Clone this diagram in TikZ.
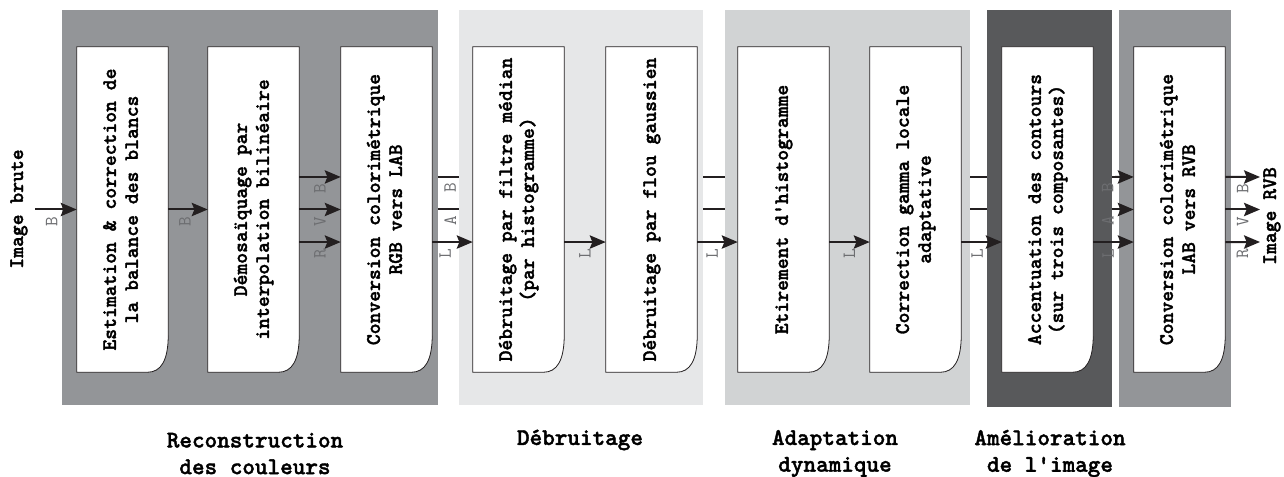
\documentclass[tikz,border=0pt]{standalone}
\usepackage{fontspec}
\usetikzlibrary{arrows.meta}

% heavy typewriter face used for all titles
\newfontfamily\heavytt{lmmonolt10-bold.otf}[FakeBold=1.6]

\definecolor{panelA}{HTML}{939598}
\definecolor{panelB}{HTML}{E6E7E8}
\definecolor{panelC}{HTML}{D1D3D4}
\definecolor{panelD}{HTML}{58595B}
\definecolor{ink}{HTML}{231F20}
\definecolor{chanfg}{HTML}{6D6E71}

\pgfdeclarelayer{wires}
\pgfdeclarelayer{panels}
\pgfdeclarelayer{cards}
\pgfsetlayers{wires,panels,cards,main}

% vertical two-line label set inside a stage
\newcommand{\vtext}[1]{\rotatebox{90}{\begin{tabular}{@{}c@{}}#1\end{tabular}}}

\begin{document}
\begin{tikzpicture}[x=0.75pt,y=-0.75pt,
  stage/.style={minimum width=68.25pt, minimum height=243.75pt, inner sep=0pt,
    font=\fontsize{15.5}{16.5}\selectfont\heavytt},
  card/.style={draw=ink, line width=0.6pt, fill=white},
  arr/.style={draw=ink, line width=1.5pt,
    -{Stealth[length=12pt,width=10pt,inset=2pt]}},
  wire/.style={draw=ink, line width=1.5pt},
  lab/.style={font=\fontsize{14}{14}\selectfont\ttfamily, text=chanfg,
    rotate=90, inner sep=0pt},
  below lab/.style={yshift=-9pt, lab},
  caption/.style={font=\fontsize{18}{20}\selectfont\heavytt,
    align=center, inner sep=0pt},
  io/.style={font=\fontsize{15.5}{16.5}\selectfont\heavytt,
    rotate=90, inner sep=0pt}]

\useasboundingbox (0,0) rectangle (1284,477);
\def\chgap{24.4pt}

% background panels, one per processing family
\begin{pgfonlayer}{panels}
  \fill[panelA] (62,10)   rectangle (438,405);
  \fill[panelB] (459,10)  rectangle (703,405);
  \fill[panelC] (725,10)  rectangle (970,405);
  \fill[panelD] (987,10)  rectangle (1112,407);
  \fill[panelA] (1119,10) rectangle (1231,407);
\end{pgfonlayer}

% processing stages
\node[stage] (b1) at (122.5,209.5)  {\vtext{Estimation \& correction de\\la balance des blancs}};
\node[stage] (b2) at (253.5,209.5)  {\vtext{Démosaïquage par\\interpolation bilinéaire}};
\node[stage] (b3) at (386.5,209.5)  {\vtext{Conversion colorimétrique\\RGB vers LAB}};
\node[stage] (b4) at (518.5,209.5)  {\vtext{Débruitage par filtre médian\\(par histogramme)}};
\node[stage] (b5) at (651.5,209.5)  {\vtext{Débruitage par flou gaussien}};
\node[stage] (b6) at (783.5,209.5)  {\vtext{Etirement d'histogramme}};
\node[stage] (b7) at (915.5,209.5)  {\vtext{Correction gamma locale\\adaptative}};
\node[stage] (b8) at (1047.5,209.5) {\vtext{Accentuation des contours\\(sur trois composantes)}};
\node[stage] (b9) at (1179.5,209.5) {\vtext{Conversion colorimétrique\\LAB vers RVB}};

% card outlines with the curled lower right corner
\begin{pgfonlayer}{cards}
  \foreach \n in {b1,b2,b3,b4,b5,b6,b7,b8,b9} {
    \path[card] (\n.north west) -- (\n.north east)
      -- ([shift={(0,-38)}]\n.south east)
      .. controls ([shift={(0,-12)}]\n.south east) and ([shift={(-7,0)}]\n.south east)
      .. ([shift={(-21,0)}]\n.south east)
      -- (\n.south west) -- cycle;
  }
\end{pgfonlayer}

% input and output
\node[io] (raw) at (19,209) {Image brute};
\coordinate (in) at (35,209.5);
\node[io] (rvb) at (1272,216) {Image RVB};
\coordinate (oB) at (1260,177);
\coordinate (oV) at (1260,209.5);
\coordinate (oR) at (1260,242);

\draw[arr] (in) -- node[below lab,pos=.4]{B} (b1.west);
\draw[arr] (b1.east) -- node[below lab,pos=.42]{B} (b2.west);

% three colour planes
\draw[arr] ([yshift=\chgap]b2.east) -- node[below lab,pos=.5]{B} ([yshift=\chgap]b3.west);
\draw[arr] (b2.east) -- node[below lab,pos=.5]{V} (b3.west);
\draw[arr] ([yshift=-\chgap]b2.east) -- node[below lab,pos=.5]{R} ([yshift=-\chgap]b3.west);

% luminance path
\draw[arr] ([yshift=-\chgap]b3.east) -- node[below lab,pos=.32]{L} ([yshift=-\chgap]b4.west);
\draw[arr] ([yshift=-\chgap]b4.east) -- node[below lab,pos=.5]{L} ([yshift=-\chgap]b5.west);
\draw[arr] ([yshift=-\chgap]b5.east) -- node[below lab,pos=.37]{L} ([yshift=-\chgap]b6.west);
\draw[arr] ([yshift=-\chgap]b6.east) -- node[below lab,pos=.5]{L} ([yshift=-\chgap]b7.west);
\draw[arr] ([yshift=-\chgap]b7.east) -- node[below lab,pos=.39]{L} ([yshift=-\chgap]b8.west);
\draw[arr] ([yshift=-\chgap]b8.east) -- node[below lab,pos=.37]{L} ([yshift=-\chgap]b9.west);

% chrominance planes run behind the panels
\begin{pgfonlayer}{wires}
  \draw[wire] ([yshift=\chgap]b3.east) -- ([yshift=\chgap]b9.west);
  \draw[wire] (b3.east) -- (b9.west);
\end{pgfonlayer}
\node[lab] (aB) at ([shift={(18,-21.5)}]b3.east) {B};
\node[lab] (aA) at ([shift={(18,11)}]b3.east) {A};
\coordinate (dB) at (1115,177);
\coordinate (dA) at (1115,209.5);
\draw[arr] (dB) -- ([yshift=\chgap]b9.west);
\draw[arr] (dA) -- (b9.west);
\node[lab] (zB) at ([shift={(-26,-21.5)}]b9.west) {B};
\node[lab] (zA) at ([shift={(-26,11)}]b9.west) {A};

% outputs
\draw[arr] ([yshift=\chgap]b9.east) -- node[below lab,pos=.5]{B} (oB);
\draw[arr] (b9.east) -- node[below lab,pos=.5]{V} (oV);
\draw[arr] ([yshift=-\chgap]b9.east) -- node[below lab,pos=.5]{R} (oR);

% family captions
\node[caption] (c1) at (255,453.5)  {Reconstruction\\des couleurs};
\node[caption] (c2) at (580,440)    {Débruitage};
\node[caption] (c3) at (835,453.5)  {Adaptation\\dynamique};
\node[caption] (c4) at (1050,453.5) {Amélioration\\de l'image};

\end{tikzpicture}
\end{document}
